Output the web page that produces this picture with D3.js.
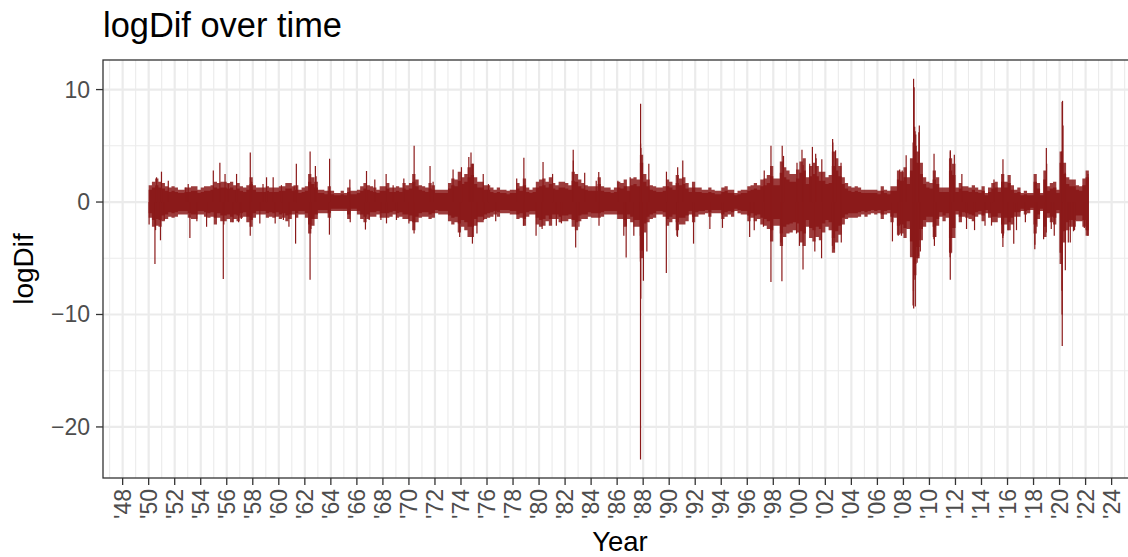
<!DOCTYPE html>
<html><head><meta charset="utf-8">
<script src="https://cdn.jsdelivr.net/npm/d3@7"></script>
<style>
body{margin:0;background:#fff}
svg{display:block}
text{font-family:"Liberation Sans", Arial, Helvetica, sans-serif}
</style>
</head><body>
<svg id="c" width="1128" height="557"></svg>
<script>
// ---------------- data ----------------
const chartTitle = "logDif over time";
const xTitle = "Year";
const yTitle = "logDif";

// quarterly band of daily log differences (first quarter = 1950 Q1)
const bandStartYear = 1950;
const bandEndYear = 2022.25;
// dense core of the band
const bandHigh = [
 1.1,1.3,1.5,1.3, 1.2,1.0,0.9,1.0, 0.9,0.8,0.8,0.9, 0.9,1.0,1.0,0.8, 0.9,1.0,1.0,1.1,
 1.3,1.2,1.3,1.3, 1.2,1.3,1.1,1.2, 1.0,0.9,1.1,1.6, 1.1,0.9,0.9,0.9, 1.0,0.9,0.9,0.9,
 1.0,1.0,1.2,1.2, 1.0,1.1,0.8,0.9, 1.0,1.8,1.6,1.3, 0.8,0.8,0.7,1.0, 0.7,0.6,0.6,0.7,
 0.6,0.9,0.7,0.7, 0.8,1.0,1.2,1.1, 1.0,0.9,0.8,1.0, 1.0,1.2,0.9,0.9, 1.0,0.9,1.2,1.1,
 1.2,1.8,1.4,1.1, 1.0,0.9,1.2,1.1, 0.8,0.8,0.8,0.8, 1.2,1.5,1.4,1.9, 1.6,1.8,2.2,2.4,
 1.6,1.3,1.3,1.1, 1.1,0.9,0.8,0.9, 0.8,0.8,0.7,0.8, 0.8,1.2,1.0,1.5, 0.9,0.8,0.9,1.3,
 1.4,1.5,1.3,1.6, 1.2,1.1,1.3,1.3, 1.2,1.1,1.9,1.8, 1.4,1.2,1.1,1.0, 1.0,1.0,1.6,1.0,
 0.9,0.9,0.8,0.9, 1.3,1.2,1.4,1.0, 1.5,1.6,1.4,3.5, 1.8,1.4,1.1,1.0, 0.9,0.9,1.0,1.4,
 1.3,1.1,1.7,1.5, 1.6,1.2,0.9,1.3, 0.9,0.9,0.8,0.8, 0.9,0.8,0.7,0.7, 0.9,1.0,0.8,0.8,
 0.6,0.7,0.8,0.8, 1.0,1.1,1.2,1.1, 1.4,1.5,1.7,2.3, 1.5,1.5,2.6,2.2, 2.0,1.8,1.8,2.1,
 2.6,2.8,1.6,2.3, 2.5,2.3,1.9,1.9, 1.6,1.7,3.2,2.8, 2.3,1.6,1.2,1.0, 0.9,1.0,0.9,0.8,
 0.8,0.8,0.8,0.8, 0.7,1.0,0.8,0.7, 1.0,1.0,2.0,1.9, 2.2,1.6,2.8,5.0, 3.5,2.5,1.6,1.3,
 1.2,2.0,1.6,0.9, 0.9,0.9,2.8,2.4, 0.9,1.2,1.0,1.0, 0.9,1.1,0.9,0.8, 1.0,0.6,0.9,1.2,
 1.3,0.9,1.8,1.3, 1.7,1.1,0.8,0.9, 0.6,0.7,0.6,0.6, 1.8,1.2,0.6,2.0, 1.0,1.2,1.3,0.8,
 3.5,2.5,1.6,1.4, 1.4,1.1,1.0,1.5, 2.2
];
const bandLow = [
 -1.0,-1.6,-1.5,-1.6, -1.2,-1.1,-0.9,-1.0, -0.9,-0.8,-0.8,-0.8, -1.0,-1.1,-1.1,-0.8, -0.8,-0.9,-1.0,-0.9,
 -1.4,-1.0,-1.2,-1.2, -1.1,-1.3,-1.1,-1.2, -1.0,-0.9,-1.3,-1.6, -1.0,-0.8,-0.8,-0.8, -1.0,-0.9,-1.0,-0.9,
 -1.1,-1.0,-1.2,-1.1, -0.8,-1.0,-0.8,-0.8, -1.0,-2.0,-1.5,-1.1, -0.7,-0.7,-0.7,-1.0, -0.6,-0.6,-0.6,-0.6,
 -0.6,-1.1,-0.6,-0.6, -0.8,-1.1,-1.3,-1.1, -0.9,-0.9,-0.8,-1.0, -1.0,-1.0,-0.9,-0.8, -1.0,-0.9,-1.1,-1.1,
 -1.2,-1.8,-1.3,-1.0, -0.9,-0.9,-1.1,-1.0, -0.7,-0.8,-0.8,-0.8, -1.2,-1.4,-1.3,-1.9, -1.6,-1.8,-2.2,-2.2,
 -1.5,-1.3,-1.3,-1.1, -1.0,-0.9,-0.8,-0.9, -0.7,-0.7,-0.7,-0.8, -0.8,-1.1,-1.0,-1.5, -0.9,-0.8,-0.8,-1.4,
 -1.6,-1.5,-1.2,-1.5, -1.1,-1.1,-1.3,-1.2, -1.2,-1.1,-1.6,-1.8, -1.2,-1.1,-1.1,-0.9, -1.0,-1.0,-1.0,-0.9,
 -0.8,-0.8,-0.8,-0.8, -1.1,-1.1,-1.6,-1.1, -1.3,-1.6,-1.6,-4.3, -1.9,-1.3,-1.1,-1.0, -0.8,-0.8,-0.9,-1.5,
 -1.3,-1.1,-1.8,-1.4, -1.4,-1.2,-0.8,-1.3, -0.9,-0.8,-0.8,-0.7, -0.9,-0.7,-0.7,-0.7, -1.1,-0.9,-0.8,-0.9,
 -0.6,-0.7,-0.8,-0.8, -1.2,-1.0,-1.2,-1.1, -1.4,-1.5,-1.7,-2.5, -1.5,-1.5,-2.8,-2.2, -2.0,-1.9,-1.8,-1.9,
 -2.6,-2.8,-1.6,-2.3, -2.5,-2.2,-2.4,-1.9, -1.6,-1.8,-3.2,-2.6, -2.1,-1.4,-1.1,-1.0, -1.0,-1.0,-0.9,-0.8,
 -0.9,-0.8,-0.7,-0.8, -0.7,-1.1,-0.8,-0.7, -1.3,-1.0,-2.1,-2.0, -2.3,-1.7,-3.5,-5.5, -4.0,-2.4,-1.6,-1.3,
 -1.3,-2.2,-1.5,-0.9, -1.2,-1.0,-3.2,-2.3, -0.8,-1.3,-0.9,-1.0, -1.1,-1.2,-0.9,-0.8, -1.2,-0.7,-1.0,-1.3,
 -1.3,-1.0,-2.0,-1.4, -1.8,-1.4,-0.9,-0.9, -0.6,-0.8,-0.7,-0.5, -2.0,-1.1,-0.6,-2.2, -1.0,-1.3,-1.4,-0.7,
 -4.5,-2.6,-1.8,-1.6, -1.6,-1.2,-1.2,-1.6, -2.5
];
// jagged outer edge of the band
const outerHigh = [
 1.5,1.8,2.1,1.8, 1.7,1.4,1.3,1.4, 1.3,1.1,1.1,1.3, 1.3,1.4,1.4,1.1, 1.3,1.4,1.4,1.5,
 1.8,1.7,1.8,1.8, 1.7,1.8,1.5,1.7, 1.4,1.3,1.5,2.2, 1.5,1.3,1.3,1.3, 1.4,1.3,1.3,1.3,
 1.4,1.4,1.7,1.7, 1.4,1.5,1.1,1.3, 1.4,2.5,2.2,1.8, 1.1,1.1,1.0,1.4, 1.0,0.8,0.8,1.0,
 0.8,1.3,1.0,1.0, 1.1,1.4,1.7,1.5, 1.4,1.3,1.1,1.4, 1.4,1.7,1.3,1.3, 1.4,1.3,1.7,1.5,
 1.7,2.5,2.0,1.5, 1.4,1.3,1.7,1.5, 1.1,1.1,1.1,1.1, 1.7,2.1,2.0,2.7, 2.2,2.5,3.1,3.4,
 2.2,1.8,1.8,1.5, 1.5,1.3,1.1,1.3, 1.1,1.1,1.0,1.1, 1.1,1.7,1.4,2.1, 1.3,1.1,1.3,1.8,
 2.0,2.1,1.8,2.2, 1.7,1.5,1.8,1.8, 1.7,1.5,2.7,2.5, 2.0,1.7,1.5,1.4, 1.4,1.4,2.2,1.4,
 1.3,1.3,1.1,1.3, 1.8,1.7,2.0,1.4, 2.1,2.2,2.0,4.2, 2.5,2.0,1.5,1.4, 1.3,1.3,1.4,2.0,
 1.8,1.5,2.4,2.1, 2.2,1.7,1.3,1.8, 1.3,1.3,1.1,1.1, 1.3,1.1,1.0,1.0, 1.3,1.4,1.1,1.1,
 0.8,1.0,1.1,1.1, 1.4,1.5,1.7,1.5, 2.0,2.1,2.4,3.2, 2.1,2.1,3.6,3.1, 2.8,2.5,2.5,2.9,
 3.6,3.9,2.2,3.2, 3.5,3.2,2.7,2.7, 2.2,2.4,4.5,3.9, 3.2,2.2,1.7,1.4, 1.3,1.4,1.3,1.1,
 1.1,1.1,1.1,1.1, 1.0,1.4,1.1,1.0, 1.4,1.4,2.8,2.7, 3.1,2.2,3.9,6.0, 4.5,3.5,2.2,1.8,
 1.7,2.8,2.2,1.3, 1.3,1.3,3.9,3.4, 1.3,1.7,1.4,1.4, 1.3,1.5,1.3,1.1, 1.4,0.8,1.3,1.7,
 1.8,1.3,2.5,1.8, 2.4,1.5,1.1,1.3, 0.8,1.0,0.8,0.8, 2.5,1.7,0.8,2.8, 1.4,1.7,1.8,1.1,
 4.5,3.5,2.2,2.0, 2.0,1.5,1.4,2.1, 2.8
];
const outerLow = [
 -1.4,-2.2,-2.1,-2.2, -1.7,-1.5,-1.3,-1.4, -1.3,-1.1,-1.1,-1.1, -1.4,-1.5,-1.5,-1.1, -1.1,-1.3,-1.4,-1.3,
 -2.0,-1.4,-1.7,-1.7, -1.5,-1.8,-1.5,-1.7, -1.4,-1.3,-1.8,-2.2, -1.4,-1.1,-1.1,-1.1, -1.4,-1.3,-1.4,-1.3,
 -1.5,-1.4,-1.7,-1.5, -1.1,-1.4,-1.1,-1.1, -1.4,-2.8,-2.1,-1.5, -1.0,-1.0,-1.0,-1.4, -0.8,-0.8,-0.8,-0.8,
 -0.8,-1.5,-0.8,-0.8, -1.1,-1.5,-1.8,-1.5, -1.3,-1.3,-1.1,-1.4, -1.4,-1.4,-1.3,-1.1, -1.4,-1.3,-1.5,-1.5,
 -1.7,-2.5,-1.8,-1.4, -1.3,-1.3,-1.5,-1.4, -1.0,-1.1,-1.1,-1.1, -1.7,-2.0,-1.8,-2.7, -2.2,-2.5,-3.1,-3.1,
 -2.1,-1.8,-1.8,-1.5, -1.4,-1.3,-1.1,-1.3, -1.0,-1.0,-1.0,-1.1, -1.1,-1.5,-1.4,-2.1, -1.3,-1.1,-1.1,-2.0,
 -2.2,-2.1,-1.7,-2.1, -1.5,-1.5,-1.8,-1.7, -1.7,-1.5,-2.2,-2.5, -1.7,-1.5,-1.5,-1.3, -1.4,-1.4,-1.4,-1.3,
 -1.1,-1.1,-1.1,-1.1, -1.5,-1.5,-2.2,-1.5, -1.8,-2.2,-2.2,-5.0, -2.7,-1.8,-1.5,-1.4, -1.1,-1.1,-1.3,-2.1,
 -1.8,-1.5,-2.5,-2.0, -2.0,-1.7,-1.1,-1.8, -1.3,-1.1,-1.1,-1.0, -1.3,-1.0,-1.0,-1.0, -1.5,-1.3,-1.1,-1.3,
 -0.8,-1.0,-1.1,-1.1, -1.7,-1.4,-1.7,-1.5, -2.0,-2.1,-2.4,-3.5, -2.1,-2.1,-3.9,-3.1, -2.8,-2.7,-2.5,-2.7,
 -3.6,-3.9,-2.2,-3.2, -3.5,-3.1,-3.4,-2.7, -2.2,-2.5,-4.5,-3.6, -2.9,-2.0,-1.5,-1.4, -1.4,-1.4,-1.3,-1.1,
 -1.3,-1.1,-1.0,-1.1, -1.0,-1.5,-1.1,-1.0, -1.8,-1.4,-2.9,-2.8, -3.2,-2.4,-4.9,-6.5, -5.0,-3.4,-2.2,-1.8,
 -1.8,-3.1,-2.1,-1.3, -1.7,-1.4,-4.5,-3.2, -1.1,-1.8,-1.3,-1.4, -1.5,-1.7,-1.3,-1.1, -1.7,-1.0,-1.4,-1.8,
 -1.8,-1.4,-2.8,-2.0, -2.5,-2.0,-1.3,-1.3, -0.8,-1.1,-1.0,-0.7, -2.8,-1.5,-0.8,-3.1, -1.4,-1.8,-2.0,-1.0,
 -5.5,-3.6,-2.5,-2.2, -2.2,-1.7,-1.7,-2.2, -3.0
];

// individual large daily moves (date, logDif)
const spikeDates = [
 "1950-01-13","1950-06-26","1950-07-13","1950-08-10","1950-11-28","1950-12-26",
 "1951-03-14","1951-07-05","1952-11-06","1953-01-15","1953-03-03","1953-09-15",
 "1954-06-14","1954-12-20","1955-06-22","1955-09-26","1955-10-11","1955-11-14",
 "1956-02-15","1956-06-28","1956-10-03","1956-11-29","1957-02-12","1957-10-22",
 "1957-10-23","1957-12-02","1958-07-18","1958-10-15","1959-01-22","1959-07-27",
 "1959-09-21","1960-03-15","1960-05-10","1960-10-12","1961-03-08","1961-04-17",
 "1961-05-08","1962-05-28","1962-05-29","1962-06-22","1962-10-24","1962-11-13",
 "1963-11-22","1963-11-26","1965-06-18","1965-06-28","1966-08-29","1966-09-28",
 "1966-12-12","1967-05-19","1967-11-06","1968-04-01","1968-04-11","1968-10-15",
 "1969-01-16","1969-08-11","1969-12-31","1970-05-25","1970-05-27","1971-08-16",
 "1971-11-10","1973-05-24","1973-11-26","1974-01-14","1974-08-09","1974-10-09",
 "1974-11-18","1974-11-26","1975-03-25","1975-09-17","1975-09-29","1976-02-10",
 "1976-09-02","1978-04-14","1978-10-26","1978-11-01","1979-10-09","1980-03-27",
 "1980-04-22","1981-01-15","1981-05-01","1981-09-21","1982-08-17","1982-08-20",
 "1982-10-25","1983-01-24","1983-07-05","1984-05-24","1984-08-03","1984-08-10",
 "1986-01-22","1986-07-07","1986-09-11","1986-09-12","1987-01-02","1987-04-14",
 "1987-10-14","1987-10-16","1987-10-19","1987-10-20","1987-10-21","1987-10-22",
 "1987-10-26","1987-10-29","1987-11-30","1988-01-08","1988-04-14","1988-06-08",
 "1989-10-13","1989-10-16","1990-08-06","1990-08-23","1990-08-27","1991-01-17",
 "1991-11-15","1993-02-16","1994-02-04","1996-03-08","1996-07-15","1997-03-31",
 "1997-04-22","1997-10-27","1997-10-28","1998-08-04","1998-08-31","1998-09-08",
 "1998-09-10","1998-10-15","1999-10-15","1999-10-28","2000-01-04","2000-03-16",
 "2000-04-14","2000-04-17","2000-10-19","2001-01-03","2001-03-12","2001-04-05",
 "2001-04-18","2001-09-17","2001-09-24","2002-07-19","2002-07-24","2002-07-29",
 "2002-09-03","2002-10-15","2003-03-17","2003-03-24","2007-02-27","2007-08-09",
 "2007-09-18","2007-11-07","2007-11-28","2008-03-18","2008-09-29","2008-09-30",
 "2008-10-09","2008-10-13","2008-10-15","2008-10-28","2008-11-13","2008-11-20",
 "2008-11-24","2008-12-01","2008-12-16","2009-01-20","2009-02-10","2009-03-02",
 "2009-03-10","2009-03-23","2009-04-20","2010-05-06","2010-05-10","2010-05-20",
 "2010-06-29","2011-08-04","2011-08-08","2011-08-09","2011-08-10","2011-08-11",
 "2011-08-18","2011-11-30","2012-06-29","2012-11-07","2013-06-20","2014-04-10",
 "2014-10-09","2014-12-17","2015-08-21","2015-08-24","2015-08-26","2015-09-01",
 "2016-01-13","2016-06-24","2016-09-09","2017-05-17","2018-02-05","2018-02-08",
 "2018-04-06","2018-10-10","2018-12-24","2018-12-26","2019-01-04","2019-05-13",
 "2019-08-05","2020-02-27","2020-03-02","2020-03-09","2020-03-12","2020-03-13",
 "2020-03-16","2020-03-24","2020-04-06","2020-06-05","2020-06-11","2020-09-03",
 "2020-10-28","2021-01-27","2021-02-25","2021-11-26","2022-01-24","2022-03-07",
 "2022-03-09"
];
const spikeValues = [
 -2.0,-5.5,-2.5,2.2,-3.4,2.7,
 -1.6,1.9,1.3,1.6,-3.2,-1.7,
 -2.2,2.8,3.5,-6.85,-2.0,2.5,
 1.6,-1.8,2.5,-1.8,-1.5,-3.0,
 4.4,1.8,-1.9,1.6,2.2,2.2,
 -1.9,1.5,-1.6,-2.2,1.5,-3.7,
 3.4,-6.9,4.5,-2.4,3.2,2.3,
 -2.9,3.85,2.0,-1.8,-2.45,2.76,
 -1.6,2.0,-1.6,2.5,-1.9,1.5,
 -1.6,2.1,-1.9,-2.8,5.0,3.2,
 1.8,2.9,-3.1,3.1,4.0,4.4,
 -3.7,3.4,-2.8,2.5,-1.6,1.6,
 -1.7,2.1,-2.1,3.94,-3.0,-2.4,
 3.55,2.5,-2.1,-1.9,4.65,3.7,
 -4.05,-2.2,2.6,1.9,2.67,-2.1,
 1.9,-3.0,-4.94,-2.1,2.2,-3.0,
 -3.0,-5.3,-22.9,5.2,8.74,-4.0,
 -8.6,4.8,-4.3,-7.0,-4.4,3.4,
 -6.3,2.7,-3.0,-3.1,3.1,3.7,
 -3.7,-2.4,-2.3,-3.1,-2.5,-2.2,
 2.8,-7.1,5.0,-3.6,-7.05,5.0,
 -2.6,4.1,-2.8,3.5,-3.9,4.65,
 -6.0,3.3,3.4,4.9,-4.4,4.3,
 3.9,-5.0,3.8,-3.9,5.6,5.3,
 -4.2,4.6,3.5,-3.6,-3.5,-3.0,
 2.9,-3.0,2.8,4.15,-9.2,5.3,
 -7.9,10.96,-9.47,10.2,6.7,-6.9,
 6.3,-9.3,5.0,-5.4,-5.0,-4.8,
 6.2,6.8,-4.4,-3.3,4.3,-3.9,
 -3.1,-4.9,-6.9,4.6,-4.5,4.5,
 -4.6,4.2,2.5,-2.4,-2.5,-2.1,
 -2.1,2.0,-3.2,-4.0,3.8,-3.0,
 -2.5,-3.7,-2.5,-1.8,-4.2,-3.8,
 -2.2,-3.3,-2.7,4.8,3.4,-2.4,
 -3.0,-4.5,4.5,-7.9,-10.0,8.9,
 -12.8,9.0,6.8,2.6,-6.07,-3.6,
 -3.6,-2.6,-2.5,-2.3,-2.4,-3.0,
 2.5
];

const yTickValues = [-20, -10, 0, 10];
const yTickLabels = ["\u221220", "\u221210", "0", "10"];
const yMinorValues = [-15, -5, 5];
const xTickYears = [1948,1950,1952,1954,1956,1958,1960,1962,1964,1966,1968,1970,1972,1974,1976,1978,1980,1982,1984,1986,1988,1990,1992,1994,1996,1998,2000,2002,2004,2006,2008,2010,2012,2014,2016,2018,2020,2022,2024];
const xTickLabels = ["'48","'50","'52","'54","'56","'58","'60","'62","'64","'66","'68","'70","'72","'74","'76","'78","'80","'82","'84","'86","'88","'90","'92","'94","'96","'98","'00","'02","'04","'06","'08","'10","'12","'14","'16","'18","'20","'22","'24"];
const xMinorYears = [1947,1949,1951,1953,1955,1957,1959,1961,1963,1965,1967,1969,1971,1973,1975,1977,1979,1981,1983,1985,1987,1989,1991,1993,1995,1997,1999,2001,2003,2005,2007,2009,2011,2013,2015,2017,2019,2021,2023,2025];

// ---------------- drawing ----------------
const lineColor = "#8B1A1A";
const panel = {left: 103, top: 60, right: 1137, bottom: 478};
const svg = d3.select("#c");

function decYear(s) {
  const d = new Date(s + "T00:00:00Z");
  const yr = d.getUTCFullYear();
  const a = Date.UTC(yr, 0, 1), b = Date.UTC(yr + 1, 0, 1);
  return yr + (d.getTime() - a) / (b - a);
}

const x = d3.scaleLinear().domain([1946.49, 2025.95]).range([panel.left, panel.right]);
const y = d3.scaleLinear().domain([-24.54, 12.63]).range([panel.bottom, panel.top]);

svg.append("rect").attr("width", 1128).attr("height", 557).attr("fill", "#fff");

svg.append("defs").append("clipPath").attr("id", "clip")
  .append("rect").attr("x", panel.left).attr("y", panel.top)
  .attr("width", panel.right - panel.left).attr("height", panel.bottom - panel.top);

const grid = svg.append("g").attr("clip-path", "url(#clip)");
grid.selectAll("line.xmin").data(xMinorYears).join("line")
  .attr("x1", d => x(d)).attr("x2", d => x(d))
  .attr("y1", panel.top).attr("y2", panel.bottom)
  .attr("stroke", "#EBEBEB").attr("stroke-width", 1.1);
grid.selectAll("line.ymin").data(yMinorValues).join("line")
  .attr("x1", panel.left).attr("x2", panel.right)
  .attr("y1", d => y(d)).attr("y2", d => y(d))
  .attr("stroke", "#EBEBEB").attr("stroke-width", 1.1);
grid.selectAll("line.xmaj").data(xTickYears).join("line")
  .attr("x1", d => x(d)).attr("x2", d => x(d))
  .attr("y1", panel.top).attr("y2", panel.bottom)
  .attr("stroke", "#EBEBEB").attr("stroke-width", 2.2);
grid.selectAll("line.ymaj").data(yTickValues).join("line")
  .attr("x1", panel.left).attr("x2", panel.right)
  .attr("y1", d => y(d)).attr("y2", d => y(d))
  .attr("stroke", "#EBEBEB").attr("stroke-width", 2.2);

// data
const plot = svg.append("g").attr("clip-path", "url(#clip)");
const areaGen = d3.area().x(d => x(d.t)).y0(d => y(d.lo)).y1(d => y(d.hi)).curve(d3.curveStepAfter);
function bandRows(hiArr, loArr) {
  const rows = hiArr.map((h, i) => ({t: bandStartYear + i / 4, hi: h, lo: loArr[i]}));
  rows.push({t: bandEndYear, hi: hiArr[hiArr.length - 1], lo: loArr[loArr.length - 1]});
  return rows;
}
plot.append("path").datum(bandRows(outerHigh, outerLow))
  .attr("d", areaGen).attr("fill", lineColor).attr("fill-opacity", 0.85);
plot.append("path").datum(bandRows(bandHigh, bandLow))
  .attr("d", areaGen).attr("fill", lineColor);

const spikes = spikeDates.map((s, i) => ({t: decYear(s), v: spikeValues[i]}));
plot.selectAll("line.spike").data(spikes).join("line")
  .attr("x1", d => x(d.t)).attr("x2", d => x(d.t))
  .attr("y1", y(0)).attr("y2", d => y(d.v))
  .attr("stroke", lineColor).attr("stroke-width", 1.2);

// panel border
svg.append("rect").attr("x", panel.left).attr("y", panel.top)
  .attr("width", panel.right - panel.left).attr("height", panel.bottom - panel.top)
  .attr("fill", "none").attr("stroke", "#333333").attr("stroke-width", 1.3);

// y axis
const yAxis = svg.append("g");
yAxis.selectAll("line").data(yTickValues).join("line")
  .attr("x1", panel.left - 7).attr("x2", panel.left)
  .attr("y1", d => y(d)).attr("y2", d => y(d))
  .attr("stroke", "#333333").attr("stroke-width", 1.3);
yAxis.selectAll("text").data(yTickValues).join("text")
  .attr("x", panel.left - 13).attr("y", d => y(d))
  .attr("text-anchor", "end").attr("dominant-baseline", "central")
  .attr("font-size", 23).attr("fill", "#4D4D4D")
  .text((d, i) => yTickLabels[i]);

// x axis
const xAxis = svg.append("g");
xAxis.selectAll("line").data(xTickYears).join("line")
  .attr("x1", d => x(d)).attr("x2", d => x(d))
  .attr("y1", panel.bottom).attr("y2", panel.bottom + 7)
  .attr("stroke", "#333333").attr("stroke-width", 1.3);
xAxis.selectAll("text").data(xTickYears).join("text")
  .attr("transform", d => `translate(${x(d)},${panel.bottom + 11}) rotate(-90)`)
  .attr("text-anchor", "end").attr("dominant-baseline", "central")
  .attr("font-size", 23).attr("fill", "#4D4D4D")
  .text((d, i) => xTickLabels[i]);

// titles
svg.append("text").attr("x", panel.left).attr("y", 37)
  .attr("font-size", 34.4).attr("fill", "#000").text(chartTitle);
svg.append("text").attr("x", (panel.left + panel.right) / 2).attr("y", 551)
  .attr("text-anchor", "middle").attr("font-size", 27.5).attr("fill", "#000").text(xTitle);
svg.append("text").attr("transform", `translate(33,${(panel.top + panel.bottom) / 2}) rotate(-90)`)
  .attr("text-anchor", "middle").attr("font-size", 28).attr("fill", "#000").text(yTitle);
</script>
</body></html>
